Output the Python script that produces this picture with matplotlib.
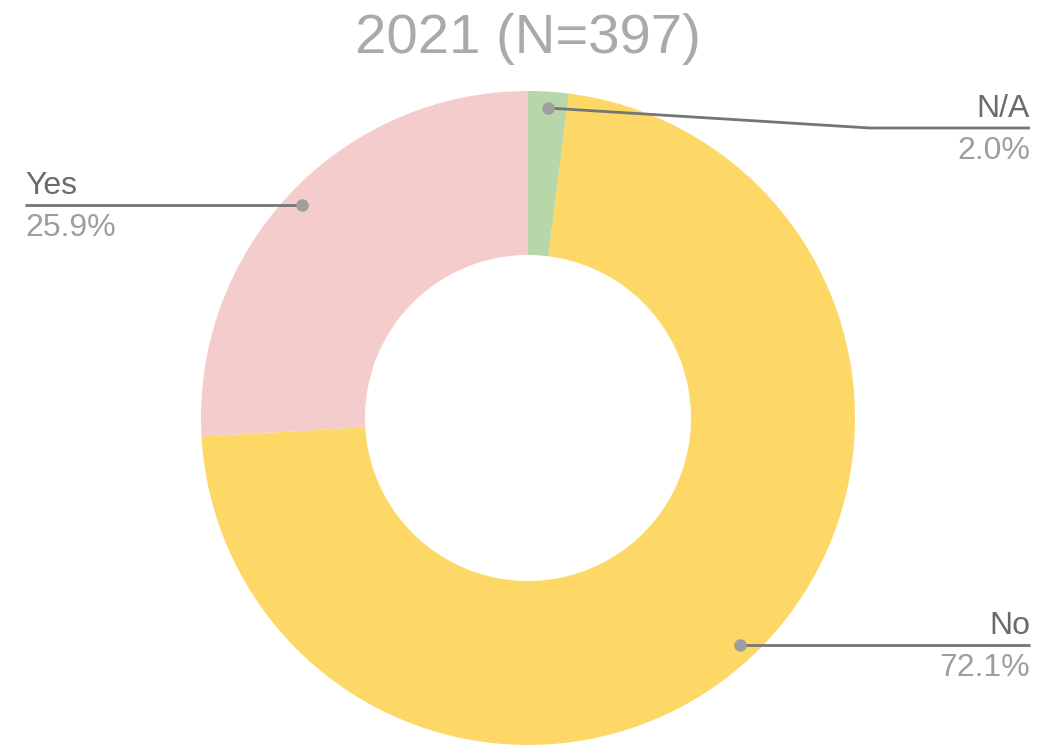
import numpy as np
import matplotlib.pyplot as plt

# Data
labels = ["N/A", "No", "Yes"]
values = [2.0, 72.1, 25.9]
colors = ["#b7d7a8", "#fdd866", "#f4cccc"]
title = "2021 (N=397)"

W, H = 1058, 747
CX, CY = 528, H - 418   # pie centre in pixel coords (y up)
R = 327
RING = 164

plt.rcParams["font.family"] = ["Liberation Sans", "DejaVu Sans"]

fig = plt.figure(figsize=(W / 100, H / 100), dpi=100)
ax = fig.add_axes([0, 0, 1, 1])

ax.pie(values, colors=colors, startangle=90, counterclock=False,
       center=(CX, CY), radius=R, frame=True,
       wedgeprops=dict(width=RING, linewidth=0))
ax.set_xlim(0, W)
ax.set_ylim(0, H)
ax.set_aspect("equal")
ax.axis("off")

ax.text(CX, H - 53, title, ha="center", va="baseline", fontsize=40.5, color="#aaaaaa")

# leader lines and labels
line_col = "#757575"
dot_col = "#9e9e9e"
name_col = "#6b6b6b"
pct_col = "#9e9e9e"
label_y = {"N/A": 128, "No": 645, "Yes": 205}   # pixel rows of the horizontal lines
side = {"N/A": "right", "No": "right", "Yes": "left"}

total = sum(values)
start = 0.0
for lab, v in zip(labels, values):
    mid = (start + v / 2) / total * 2 * np.pi
    start += v
    px = CX + 0.95 * R * np.sin(mid)
    py = CY + 0.95 * R * np.cos(mid)
    ly = H - label_y[lab]
    if side[lab] == "right":
        xe = 1030
        xs = [px, 870, xe] if abs(ly - py) > 5 else [px, xe]
        ys = [py, ly, ly] if abs(ly - py) > 5 else [ly, ly]
        ha = "right"
    else:
        xe = 25
        xs, ys = [px, xe], [ly, ly]
        ha = "left"
    ax.plot(xs, ys, color=line_col, lw=2, solid_capstyle="butt", zorder=3)
    ax.plot([px], [ys[0]], "o", color=dot_col, ms=8, zorder=4)
    ax.text(xe, ly + 11, lab, ha=ha, va="baseline", fontsize=23, color=name_col)
    ax.text(xe, ly - 31, f"{v:.1f}%", ha=ha, va="baseline", fontsize=23, color=pct_col)

fig.savefig("out.png", dpi=100, facecolor="white")
